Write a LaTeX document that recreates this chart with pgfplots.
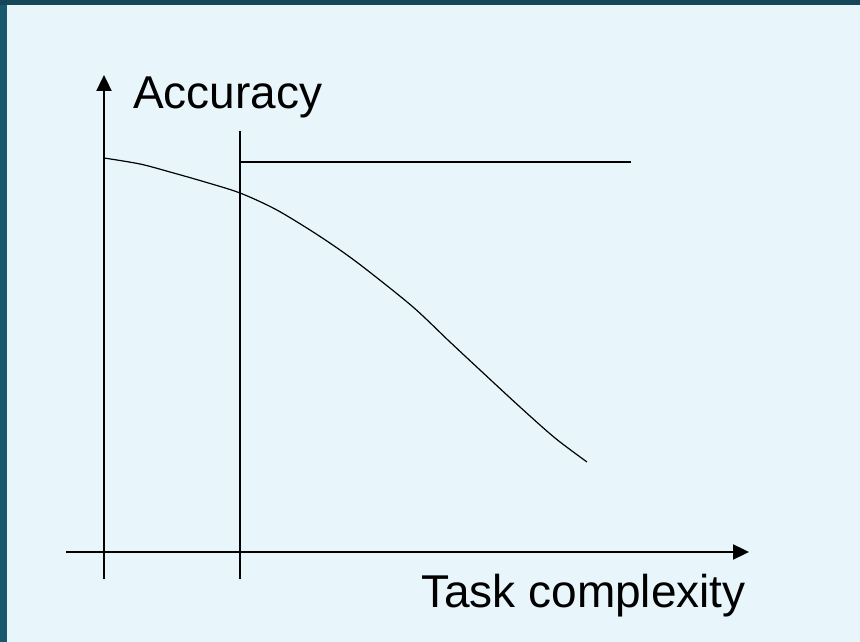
\documentclass[border=0pt]{standalone}
\usepackage{pgfplots}
\pgfplotsset{compat=1.18}
\usetikzlibrary{arrows.meta}
\usepackage{fontspec}
\setmainfont{Liberation Sans}
\definecolor{bgc}{RGB}{232,246,251}
\definecolor{frameL}{RGB}{26,88,112}
\definecolor{frameT}{RGB}{22,70,90}
\begin{document}
\begin{tikzpicture}
\begin{axis}[
  scale only axis, width=860pt, height=642pt,
  xmin=0, xmax=860, ymin=-642, ymax=0,
  hide axis, clip=false,
]
\fill[frameL] (axis cs:0,-642) rectangle (axis cs:860,0);
\fill[frameT] (axis cs:0,-5) rectangle (axis cs:860,0);
\fill[bgc] (axis cs:7,-642) rectangle (axis cs:860,-5);
% y axis
\addplot[black, line width=2.3pt, -{Triangle[length=16pt,width=15pt]}] coordinates {(104,-579) (104,-75)};
% x axis
\addplot[black, line width=2.3pt, -{Triangle[length=16pt,width=15pt]}] coordinates {(66,-552) (749,-552)};
% vertical threshold line
\addplot[black, line width=2.3pt] coordinates {(240,-579) (240,-131)};
% horizontal line
\addplot[black, line width=2.3pt] coordinates {(240,-162) (631,-162)};
% curve
\addplot[black, line width=1.2pt, smooth] coordinates {
(104,-158) (140,-164) (170,-172) (205,-182) (240,-193) (275,-209) (310,-230) (340,-250) (367,-270) (413,-307) (450,-342) (480,-370) (520,-407) (555,-438) (587,-462)};
\node[anchor=base west, inner sep=0pt, font=\fontsize{46}{55}\selectfont] at (axis cs:133,-109) {Accuracy};
\node[anchor=base west, inner sep=0pt, font=\fontsize{46}{55}\selectfont] at (axis cs:421,-608) {Task complexity};
\end{axis}
\end{tikzpicture}
\end{document}
